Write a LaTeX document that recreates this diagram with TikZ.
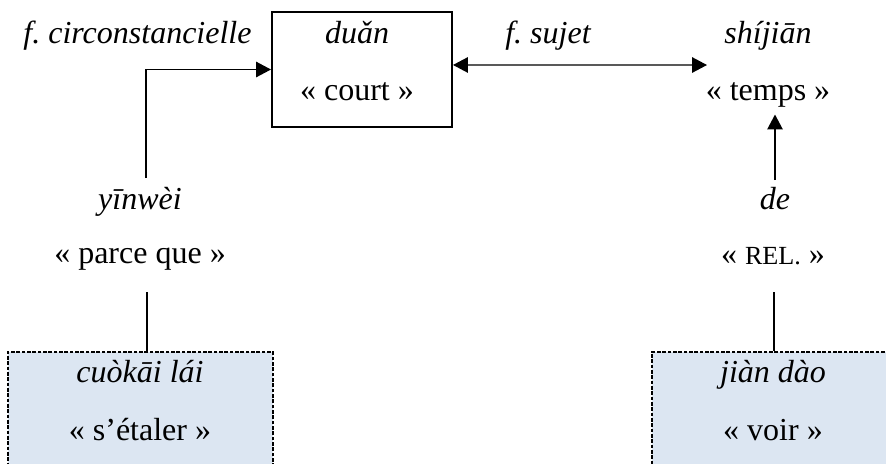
\documentclass[tikz,border=0pt]{standalone}
\usepackage{fontspec}
\setmainfont{Liberation Serif}
\usepackage{xcolor}
\usetikzlibrary{arrows.meta,calc}
\frenchspacing
\definecolor{glossblue}{HTML}{DCE6F2}
\newcommand{\glossfont}{\fontsize{12pt}{14.4pt}\selectfont}
\tikzset{
  pinyin/.style={anchor=base,inner sep=0pt,font=\glossfont\itshape,text height=0.7em,text depth=0.22em},
  gloss/.style={anchor=base,inner sep=0pt,font=\glossfont,text height=0.7em,text depth=0.22em},
  tip/.style={-{Triangle[length=5.6pt,width=5.8pt]}},
  bitip/.style={{Triangle[length=5.6pt,width=5.8pt]}-{Triangle[length=5.6pt,width=5.8pt]}},
  headbox/.style={draw,line width=0.75pt,minimum width=67.5pt,minimum height=43.1pt},
  verbbox/.style={draw,fill=glossblue,line width=0.7pt,dash pattern=on 1.4pt off 0.6pt,minimum height=51.75pt}
}
\begin{document}
\begin{tikzpicture}[x=0.375pt,y=-0.375pt,line width=0.5pt]
\useasboundingbox (0,0) rectangle (886,463);
\clip (0,0) rectangle (886,463);
% boxes
\node[headbox] (duan) at (362,69.5) {};
\node[verbbox,minimum width=99.4pt] (cuokai) at (140.5,421) {};
\node[verbbox,minimum width=90.75pt] (jiandao) at (773,421) {};
% words
\node[pinyin] (circ) at (137.5,43) {f. circonstancielle};
\node[pinyin] (duanpy) at (357,43) {duǎn};
\node[gloss] (court) at (357,100) {«~court~»};
\node[pinyin] (sujet) at (548,43) {f. sujet};
\node[pinyin] (shijian) at (768,43) {shíjiān};
\node[gloss] (temps) at (768,100) {«~temps~»};
\node[pinyin] (yinwei) at (140,209) {yīnwèi};
\node[gloss] (parce) at (140,263) {«~parce que~»};
\node[pinyin] (de) at (775,209) {de};
\node[gloss] (rel) at (773,264) {«~{\fontsize{9.8pt}{12pt}\selectfont REL.}~»};
\node[pinyin] (cuokaipy) at (140,382) {cuòkāi lái};
\node[gloss] (etaler) at (140,440) {«~s’étaler~»};
\node[pinyin] (jiandaopy) at (773,382) {jiàn dào};
\node[gloss] (voir) at (773,440) {«~voir~»};
% connectors
\coordinate (yinweiTop) at (146,178);
\coordinate (sujetEnd) at (707,65);
\coordinate (parceFoot) at (147,292);
\coordinate (relFoot) at (774,292);
\draw[tip] (yinweiTop) |- (duan.west);
\draw[bitip] ([yshift=1.7pt]duan.east) -- (sujetEnd);
\draw[tip] ([yshift=3.6pt]de.north) -- ([yshift=-3pt]temps.south -| de.north);
\draw (parceFoot) -- (parceFoot |- cuokai.north);
\draw (relFoot) -- (relFoot |- jiandao.north);
\end{tikzpicture}
\end{document}
